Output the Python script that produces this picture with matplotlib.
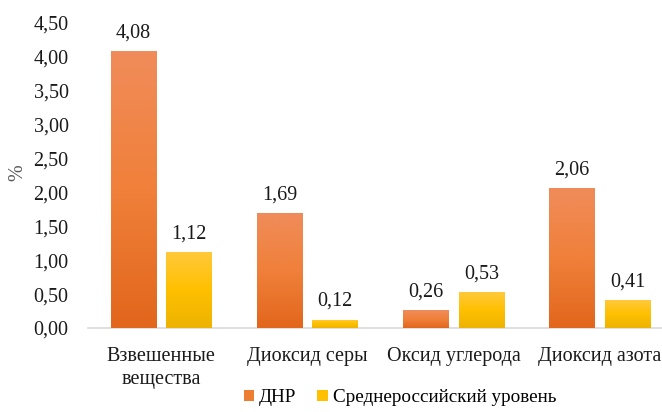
import matplotlib
matplotlib.use("Agg")
import matplotlib.pyplot as plt
import numpy as np
from matplotlib.colors import LinearSegmentedColormap
from matplotlib.patches import Patch

categories = ["Взвешенные\nвещества", "Диоксид серы", "Оксид углерода", "Диоксид азота"]
dnr = [4.08, 1.69, 0.26, 2.06]
russia = [1.12, 0.12, 0.53, 0.41]
series_names = ["ДНР", "Среднероссийский уровень"]
yticks = [0, 0.5, 1, 1.5, 2, 2.5, 3, 3.5, 4, 4.5]

plt.rcParams['font.family'] = ['Liberation Serif', 'DejaVu Serif']

W, H = 662, 412
fig = plt.figure(figsize=(W / 100, H / 100), dpi=100)
ax = fig.add_axes([88 / W, (H - 328) / H, (673 - 88) / W, (328 - 22.5) / H])

x = np.arange(len(categories))
bw = 0.31
off = 0.19
b1 = ax.bar(x - off, dnr, bw, color="#ED7D31", zorder=2)
b2 = ax.bar(x + off, russia, bw, color="#FFC000", zorder=2)

cm_or = LinearSegmentedColormap.from_list("o", ["#E2661C", "#F0803A", "#F08C5A"])
cm_ye = LinearSegmentedColormap.from_list("y", ["#EDB300", "#FFC000", "#FFC93C"])
grad = np.linspace(0, 1, 256).reshape(-1, 1)
for bars, cm in ((b1, cm_or), (b2, cm_ye)):
    for p in bars:
        x0, y0 = p.get_x(), p.get_y()
        w, h = p.get_width(), p.get_height()
        im = ax.imshow(grad, cmap=cm, aspect="auto", origin="lower",
                       extent=[x0, x0 + w, y0, y0 + h], zorder=3)
        im.set_clip_path(p)
        p.set_facecolor("none")

for bars, vals in ((b1, dnr), (b2, russia)):
    for p, v in zip(bars, vals):
        ax.text(p.get_x() + p.get_width() / 2, v + 0.13, f"{v:.2f}".replace(".", ","),
                ha="center", va="bottom", fontsize=14.5, color="#1a1a1a")

ax.set_xlim(-0.5, 3.5)
ax.set_ylim(0, 4.5)
ax.set_yticks(yticks)
ax.set_yticklabels([f"{t:.2f}".replace(".", ",") for t in yticks], fontsize=14.5, color="#1a1a1a")
ax.set_xticks(x)
ax.set_xticklabels(categories, fontsize=14.5, color="#1a1a1a", linespacing=1.25)
ax.tick_params(axis="both", length=0)
ax.tick_params(axis="x", pad=14)
ax.tick_params(axis="y", pad=14)
for s in ("top", "right", "left"):
    ax.spines[s].set_visible(False)
ax.spines["bottom"].set_color("#d9d9d9")
ax.spines["bottom"].set_linewidth(1.2)
fig.text(18 / W, (H - 173) / H, "%", rotation=90, ha="center", va="center",
         fontsize=14.5, color="#595959")

handles = [Patch(facecolor="#ED7D31"), Patch(facecolor="#FFC000")]
fig.legend(handles, series_names, loc="center", bbox_to_anchor=(400 / W, (H - 398) / H),
           ncol=2, frameon=False, fontsize=13.8, handlelength=0.55, handleheight=0.55,
           handletextpad=0.25, columnspacing=1.1)

fig.savefig("out.png", dpi=100)
